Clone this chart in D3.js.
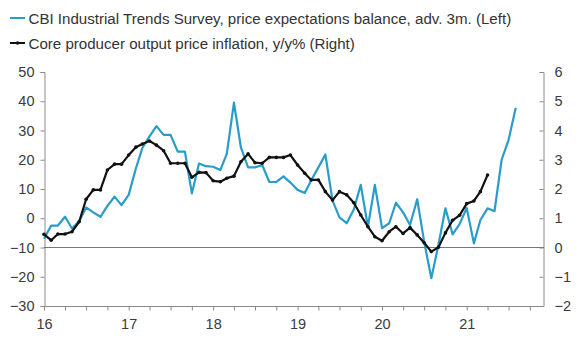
<!DOCTYPE html>
<html><head><meta charset="utf-8">
<script src="https://cdn.jsdelivr.net/npm/d3@7"></script>
<style>
body{margin:0;background:#fff;}
svg text{font-family:"Liberation Sans",Arial,sans-serif;}
</style></head>
<body><svg id="c" width="582" height="345"></svg>
<script>
// Month index 0 = Jan 2016
const startYear = 2016;
const cbiValues = [-7,-2.5,-2.5,0.5,-3.5,-1,3.7,2,0.5,4.2,7.4,4.5,
  8,17,24,28,31.5,28.5,28.5,22.8,22.8,8.5,18.7,17.8,
  17.6,16.5,22,39.5,24.2,17.4,17.4,18.2,12.4,12.4,14.3,12.2,
  9.7,8.6,13,17.4,21.8,6,0.3,-1.7,3,11.4,-2.9,11.4,
  -3.4,-1.7,5.3,2,-2.3,6.5,-8,-20.5,-9,3.4,-5.5,-2,
  3.5,-8.6,-0.6,3.4,2.4,20,26.8,37.8];
const ppiValues = [0.45,0.25,0.46,0.46,0.54,0.88,1.65,1.97,1.97,2.65,2.85,2.85,
  3.16,3.43,3.54,3.64,3.5,3.31,2.88,2.88,2.88,2.4,2.57,2.56,
  2.28,2.25,2.37,2.44,2.93,3.2,2.9,2.88,3.08,3.08,3.08,3.16,
  2.82,2.54,2.31,2.31,1.91,1.62,1.91,1.8,1.53,1.11,0.71,0.37,
  0.23,0.54,0.71,0.48,0.68,0.43,0.16,-0.14,0.01,0.5,0.93,1.1,
  1.5,1.59,1.91,2.48];
const leftTicks = [50,40,30,20,10,0,-10,-20,-30];
const rightTicks = [6,5,4,3,2,1,0,-1,-2];
const yearLabels = ["16","17","18","19","20","21"];
const legendLabels = ["CBI Industrial Trends Survey, price expectations balance, adv. 3m. (Left)",
  "Core producer output price inflation, y/y% (Right)"];

const blue = "#2a9ccb", dark = "#111";
const svg = d3.select("#c");
const date = i => new Date(startYear, i, 1);
const x = d3.scaleTime().domain([date(0), date(71)]).range([44, 544]);
const yL = d3.scaleLinear().domain([-30, 50]).range([306, 72]);
const yR = d3.scaleLinear().domain([-2, 6]).range([306, 72]);

// legend
const lg = svg.append("g");
legendLabels.forEach((t, k) => {
  const yy = 18 + k * 25;
  lg.append("line").attr("x1", 10).attr("x2", 25).attr("y1", yy).attr("y2", yy)
    .attr("stroke", k ? dark : blue).attr("stroke-width", 2);
  if (k) lg.append("circle").attr("cx", 17.5).attr("cy", yy).attr("r", 1.8).attr("fill", dark);
  lg.append("text").attr("x", 28.5).attr("y", yy + 5.5).attr("font-size", 15.1)
    .attr("fill", "#333").text(t);
});

const axisColor = "#8a8a8a";
// left axis
const la = svg.append("g").attr("transform", "translate(44.5,0)")
  .call(d3.axisLeft(yL).tickValues(leftTicks).tickSize(4).tickPadding(6).tickFormat(d3.format("d")));
// right axis
const ra = svg.append("g").attr("transform", "translate(543.5,0)")
  .call(d3.axisRight(yR).tickValues(rightTicks).tickSize(-4).tickPadding(11).tickFormat(d3.format("d")));
// bottom axis
const qTicks = d3.range(0, 72, 3).map(date);
const ba = svg.append("g").attr("transform", "translate(0,306.5)")
  .call(d3.axisBottom(x).tickValues(qTicks).tickSize(4).tickPadding(5)
    .tickFormat(d => d.getMonth() === 0 ? yearLabels[d.getFullYear() - startYear] : ""));
[la, ra, ba].forEach(g => {
  g.select(".domain").attr("stroke", axisColor);
  g.selectAll(".tick line").attr("stroke", axisColor);
  g.selectAll("text").attr("font-size", 14.5).attr("fill", "#3a3a3a").attr("font-family", "Liberation Sans, Arial, sans-serif");
});
ba.selectAll("text").attr("dy", "0.9em");
ba.select(".domain").attr("d", "M44,0H544");

// zero line (right axis 0 / left -10)
svg.append("line").attr("x1", 44).attr("x2", 544).attr("y1", yR(0)).attr("y2", yR(0))
  .attr("stroke", "#777").attr("stroke-width", 1.2);

// CBI line
svg.append("path").datum(cbiValues)
  .attr("d", d3.line().x((d, i) => x(date(i))).y(d => yL(d)))
  .attr("fill", "none").attr("stroke", blue).attr("stroke-width", 2.2).attr("stroke-linejoin", "round");
// PPI line
svg.append("path").datum(ppiValues)
  .attr("d", d3.line().x((d, i) => x(date(i))).y(d => yR(d)))
  .attr("fill", "none").attr("stroke", dark).attr("stroke-width", 2.2).attr("stroke-linejoin", "round");
svg.append("g").selectAll("circle").data(ppiValues).join("circle")
  .attr("cx", (d, i) => x(date(i))).attr("cy", d => yR(d)).attr("r", 1.8).attr("fill", dark);
</script></body></html>
